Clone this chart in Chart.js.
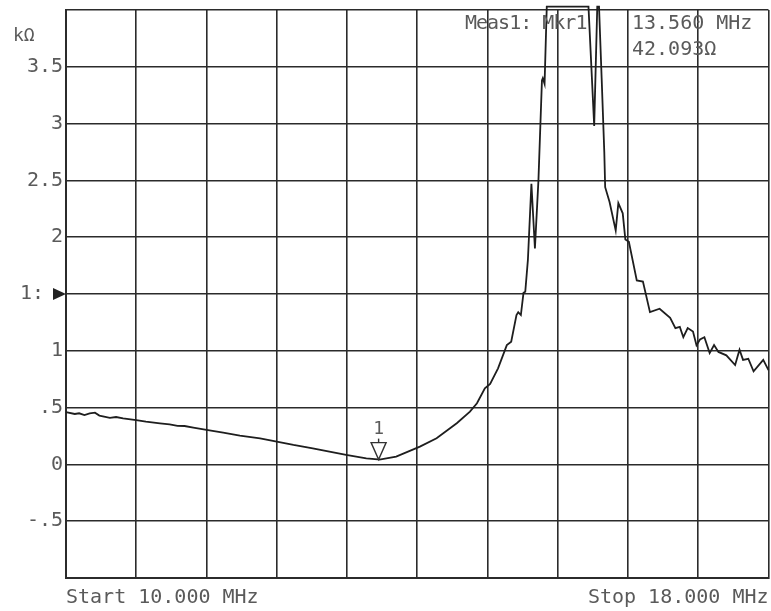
<!DOCTYPE html>
<html>
<head>
<meta charset="utf-8">
<title>Impedance sweep</title>
<script src="https://cdn.jsdelivr.net/npm/chart.js@4/dist/chart.umd.min.js"></script>
<style>
  html, body { margin:0; padding:0; background:#fff; }
  #chart { display:block; }
</style>
</head>
<body>
<canvas id="chart" width="771" height="611"></canvas>
<script>
// trace: frequency (MHz) / impedance (kΩ)
const freqMHz = [
  10.00, 10.10, 10.15, 10.21, 10.27, 10.33, 10.38, 10.50, 10.57, 10.65,
  10.80, 10.91, 11.07, 11.18, 11.27, 11.35, 11.45, 11.60, 11.79, 11.98,
  12.21, 12.40, 12.59, 12.81, 13.00, 13.19, 13.42, 13.55, 13.57, 13.76,
  14.03, 14.22, 14.45, 14.60, 14.68, 14.77, 14.83, 14.92, 15.02, 15.07,
  15.13, 15.15, 15.18, 15.21, 15.23, 15.26, 15.30, 15.34, 15.38, 15.42,
  15.43, 15.45, 15.475, 15.95, 16.015, 16.05, 16.07, 16.10, 16.13, 16.14,
  16.19, 16.26, 16.29, 16.34, 16.37, 16.41, 16.50, 16.57, 16.65, 16.76,
  16.88, 16.94, 16.99, 17.03, 17.08, 17.14, 17.18, 17.22, 17.27, 17.33,
  17.38, 17.43, 17.52, 17.62, 17.67, 17.71, 17.77, 17.83, 17.94, 18.00
];
const impedanceK = [
  0.460, 0.444, 0.450, 0.435, 0.450, 0.455, 0.430, 0.410, 0.417, 0.405,
  0.390, 0.376, 0.362, 0.353, 0.340, 0.338, 0.323, 0.303, 0.279, 0.253,
  0.230, 0.200, 0.171, 0.142, 0.112, 0.083, 0.053, 0.045, 0.042, 0.068,
  0.156, 0.230, 0.362, 0.464, 0.538, 0.670, 0.708, 0.846, 1.050, 1.080,
  1.315, 1.340, 1.315, 1.510, 1.520, 1.800, 2.470, 1.900, 2.500, 3.380,
  3.400, 3.350, 4.030, 4.030, 2.980, 4.030, 4.030, 3.400, 2.750, 2.440,
  2.310, 2.060, 2.300, 2.210, 1.980, 1.960, 1.620, 1.610, 1.340, 1.370,
  1.290, 1.200, 1.210, 1.120, 1.200, 1.170, 1.050, 1.100, 1.120, 0.980,
  1.050, 0.990, 0.960, 0.875, 1.010, 0.920, 0.930, 0.820, 0.920, 0.830
];

const yTickValues = [3.5, 3, 2.5, 2, 1, 0.5, 0, -0.5];
const yTickLabels = ['3.5', '3', '2.5', '2', '1', '.5', '0', '-.5'];
const refLevel = 1.5;
const refLabel = '1:';
const yUnit = 'kΩ';

const startFreq = 10, stopFreq = 18;
const startLabel = 'Start 10.000 MHz';
const stopLabel = 'Stop 18.000 MHz';

const markerFreq = 13.56;
const markerValue = 0.042093;
const markerName = '1';
const markerText = ['Meas1: Mkr1', '13.560 MHz', '42.093Ω'];

const FONT = "'DejaVu Sans Mono', 'Liberation Mono', monospace";
const TXT = '#5a5a5a';
const GRID = '#2b2b2b';

const near = (a, b) => Math.abs(a - b) < 1e-6;

const annotations = {
  id: 'annotations',
  afterDraw(c){
    const ctx = c.ctx, x = c.scales.x, y = c.scales.y;
    ctx.save();
    ctx.fillStyle = TXT;
    ctx.textBaseline = 'middle';

    // unit label
    ctx.font = '18px ' + FONT;
    ctx.textAlign = 'left';
    ctx.fillText(yUnit, 13, 36);

    // reference level marker
    const ry = y.getPixelForValue(refLevel);
    ctx.font = '20px ' + FONT;
    ctx.textAlign = 'right';
    ctx.fillText(refLabel, 44, ry);
    ctx.fillStyle = '#222';
    ctx.beginPath();
    ctx.moveTo(53, ry - 6);
    ctx.lineTo(66, ry);
    ctx.lineTo(53, ry + 6);
    ctx.closePath();
    ctx.fill();

    // marker 1 triangle
    const mx = x.getPixelForValue(markerFreq);
    const my = y.getPixelForValue(markerValue);
    ctx.strokeStyle = '#333';
    ctx.lineWidth = 1.4;
    ctx.beginPath();
    ctx.moveTo(mx - 7.5, my - 17);
    ctx.lineTo(mx + 7.5, my - 17);
    ctx.lineTo(mx, my);
    ctx.closePath();
    ctx.stroke();
    ctx.beginPath();
    ctx.moveTo(mx, my - 17);
    ctx.lineTo(mx, my - 21);
    ctx.stroke();
    ctx.fillStyle = TXT;
    ctx.font = '18px ' + FONT;
    ctx.textAlign = 'center';
    ctx.fillText(markerName, mx, my - 30);

    // marker readout
    ctx.font = '20px ' + FONT;
    ctx.textAlign = 'left';
    try { ctx.letterSpacing = '-1px'; } catch(e) {}
    ctx.fillText(markerText[0], 465, 24);
    try { ctx.letterSpacing = '0px'; } catch(e) {}
    ctx.fillText(markerText[1], 632, 24);
    ctx.fillText(markerText[2], 632, 50);
    ctx.restore();
  }
};

new Chart(document.getElementById('chart').getContext('2d'), {
  type: 'line',
  data: {
    datasets: [{
      data: freqMHz.map((f, i) => ({ x: f, y: impedanceK[i] })),
      borderColor: '#1e1e1e',
      borderWidth: 1.8,
      pointRadius: 0,
      tension: 0,
      fill: false,
      clip: { left: 2, top: 5, right: 3, bottom: 2 }
    }]
  },
  options: {
    responsive: false,
    animation: false,
    layout: { padding: { top: 10, right: 2.5, left: 0, bottom: 0 } },
    plugins: { legend: { display: false }, tooltip: { enabled: false } },
    scales: {
      x: {
        type: 'linear',
        min: startFreq,
        max: stopFreq,
        afterFit: (s) => { s.height = 33; s.paddingLeft = 0; s.paddingRight = 0; },
        border: { display: true, color: GRID, width: 2 },
        grid: { color: GRID, lineWidth: 1.6, drawTicks: false },
        ticks: {
          stepSize: 0.8,
          autoSkip: false,
          maxRotation: 0,
          align: 'inner',
          padding: 8,
          color: TXT,
          font: { family: FONT, size: 20 },
          callback: (v) => near(v, startFreq) ? startLabel : (near(v, stopFreq) ? stopLabel : '')
        }
      },
      y: {
        min: -1,
        max: 4,
        afterFit: (s) => { s.width = 66; s.paddingTop = 0; s.paddingBottom = 0; },
        border: { display: true, color: GRID, width: 2 },
        grid: { color: GRID, lineWidth: 1.6, drawTicks: false },
        ticks: {
          stepSize: 0.5,
          autoSkip: false,
          padding: 3,
          color: TXT,
          font: { family: FONT, size: 20 },
          callback: (v) => {
            const i = yTickValues.findIndex(t => near(t, v));
            return i >= 0 ? yTickLabels[i] : '';
          }
        }
      }
    }
  },
  plugins: [annotations]
});
</script>
</body>
</html>
